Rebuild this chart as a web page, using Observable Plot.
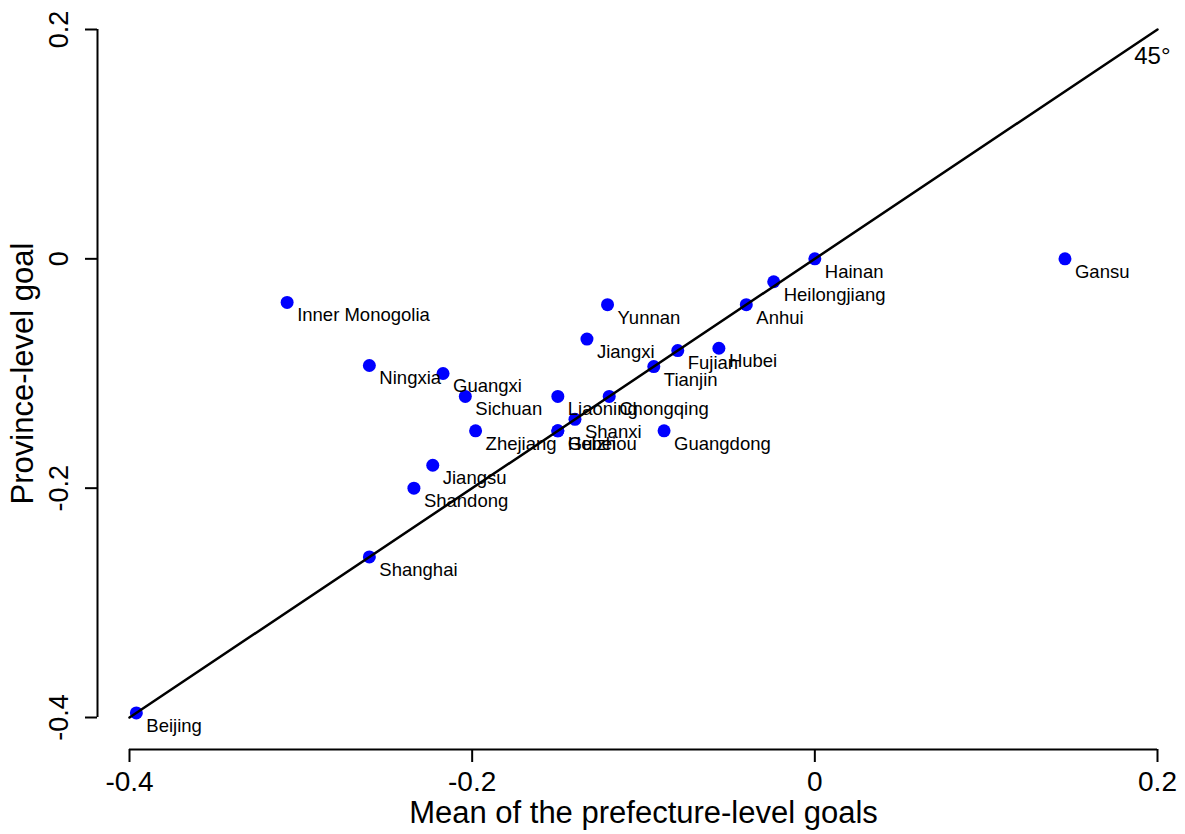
<!DOCTYPE html>
<html>
<head>
<meta charset="utf-8">
<script src="https://cdn.jsdelivr.net/npm/d3@7"></script>
<script src="https://cdn.jsdelivr.net/npm/@observablehq/plot@0.6"></script>
<style>
  html, body { margin: 0; padding: 0; background: #fff; }
  #chart svg { display: block; }
</style>
</head>
<body>
<div id="chart"></div>
<script>
// Provinces (labels)
const provinces = ["Beijing","Shanghai","Shandong","Jiangsu","Zhejiang","Hebei","Guizhou","Shanxi","Liaoning","Chongqing","Sichuan","Guangxi","Ningxia","Inner Monogolia","Yunnan","Jiangxi","Tianjin","Fujian","Hubei","Guangdong","Anhui","Heilongjiang","Hainan","Gansu"];
// Mean of the prefecture-level goals (x)
const prefectureMean = [-0.396,-0.26,-0.234,-0.223,-0.198,-0.15,-0.15,-0.14,-0.15,-0.12,-0.204,-0.217,-0.26,-0.308,-0.121,-0.133,-0.094,-0.08,-0.056,-0.088,-0.04,-0.024,0,0.146];
// Province-level goal (y)
const provinceGoal = [-0.396,-0.26,-0.2,-0.18,-0.15,-0.15,-0.15,-0.14,-0.12,-0.12,-0.12,-0.1,-0.093,-0.038,-0.04,-0.07,-0.094,-0.08,-0.078,-0.15,-0.04,-0.02,0,0];
// 45-degree reference line endpoints
const diagonal = [-0.4, 0.2];
// Tick values and labels
const xTicks = [-0.4, -0.2, 0, 0.2];
const yTicks = [-0.4, -0.2, 0, 0.2];
const tickLabel = v => (v === 0 ? "0" : String(v));

const data = provinces.map((name, i) => ({name, x: prefectureMean[i], y: provinceGoal[i]}));
const lineData = diagonal.map(v => ({x: v, y: v}));

const chart = Plot.plot({
  width: 1185,
  height: 834,
  marginLeft: 129,
  marginRight: 28,
  marginTop: 29,
  marginBottom: 117,
  x: {domain: [-0.4, 0.2]},
  y: {domain: [-0.4, 0.2]},
  style: {fontFamily: "'Liberation Sans', Arial, Helvetica, sans-serif", background: "#fff", color: "#000"},
  marks: [
    // axis lines (offset like R's base graphics)
    Plot.ruleY([-0.4], {x1: -0.4, x2: 0.2, dy: 32, stroke: "#000", strokeWidth: 2}),
    Plot.ruleX([-0.4], {y1: -0.4, y2: 0.2, dx: -32, stroke: "#000", strokeWidth: 2}),
    // ticks
    Plot.axisX(xTicks, {tickSize: 13, dy: 32, fill: "none", label: null, strokeWidth: 2}),
    Plot.axisY(yTicks, {tickSize: 12, dx: -32, fill: "none", label: null, strokeWidth: 2}),
    // tick labels
    Plot.text(xTicks, {x: d => d, frameAnchor: "bottom", dy: 65, lineAnchor: "middle", textAnchor: "middle", text: tickLabel, fontSize: 28, fill: "#000"}),
    Plot.text(yTicks, {y: d => d, frameAnchor: "left", dx: -70, rotate: -90, lineAnchor: "middle", textAnchor: "middle", text: tickLabel, fontSize: 27, fill: "#000"}),
    // axis titles
    Plot.text(["Mean of the prefecture-level goals"], {frameAnchor: "bottom", dy: 96, lineAnchor: "middle", textAnchor: "middle", text: d => d, fontSize: 31, fill: "#000"}),
    Plot.text(["Province-level goal"], {frameAnchor: "left", dx: -106, rotate: -90, lineAnchor: "middle", textAnchor: "middle", text: d => d, fontSize: 31, fill: "#000"}),
    // points
    Plot.dot(data, {x: "x", y: "y", r: 6.5, fill: "#0000ff", stroke: "none"}),
    // 45 degree line
    Plot.line(lineData, {x: "x", y: "y", stroke: "#000", strokeWidth: 2.5}),
    Plot.text(["45°"], {frameAnchor: "top-right", dx: 13, dy: 27, lineAnchor: "middle", textAnchor: "end", text: d => d, fontSize: 24, fill: "#000"}),
    // labels
    Plot.text(data, {x: "x", y: "y", text: "name", dx: 10, dy: 13, textAnchor: "start", lineAnchor: "middle", fontSize: 18.5, fill: "#000"})
  ]
});
document.getElementById("chart").appendChild(chart);
</script>
</body>
</html>
